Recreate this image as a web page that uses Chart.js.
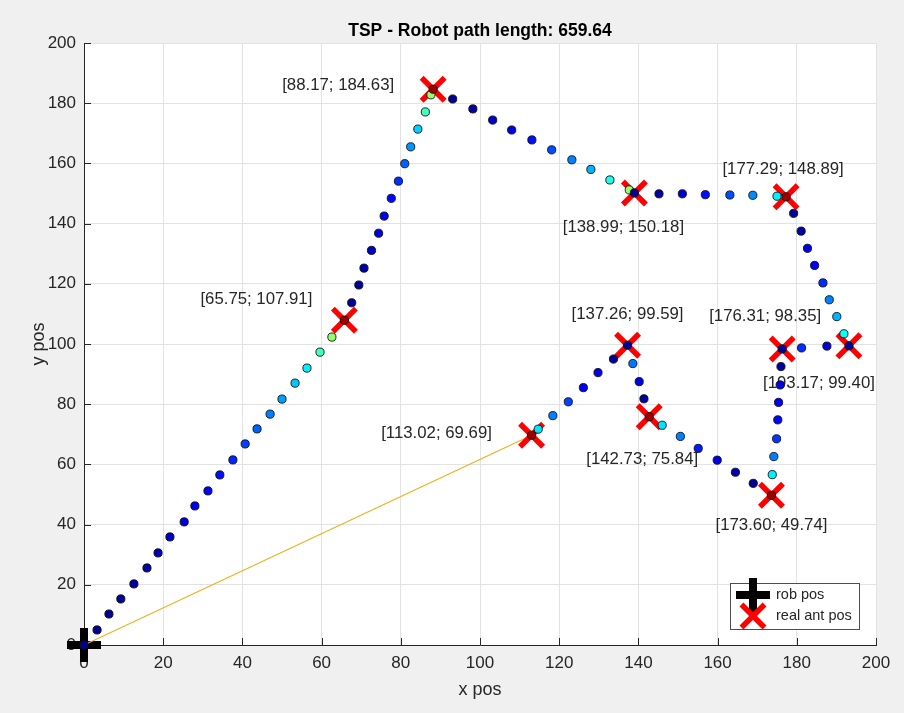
<!DOCTYPE html>
<html>
<head>
<meta charset="utf-8">
<title>TSP - Robot path</title>
<script src="https://cdn.jsdelivr.net/npm/chart.js@4.4.1/dist/chart.umd.min.js"></script>
<style>
    html, body { margin: 0; padding: 0; background: #f0f0f0; }
    #wrap { width: 904px; height: 713px; }
</style>
</head>
<body>
<div id="wrap"><canvas id="tspChart" width="904" height="713"></canvas></div>
<script>
// ── DATA ──
const pathLength = 659.64;

// real ant positions, in visiting order
const antX = [65.75, 88.17, 138.99, 177.29, 193.17, 176.31, 173.60, 142.73, 137.26, 113.02];
const antY = [107.91, 184.63, 150.18, 148.89, 99.40, 98.35, 49.74, 75.84, 99.59, 69.69];

// robot start
const robotX = [0];
const robotY = [0];

// straight leg back home from the last ant
const returnX = [0, 113.02];
const returnY = [0, 69.69];

// sampled robot trail and its colour level (0..1 on the jet map)
const trailX = [
    0, 3.3, 6.3, 9.3, 12.6, 15.9, 18.7, 21.7, 25.3, 28.0, 31.3, 34.3, 37.6, 40.7, 43.7, 47.0, 50.0, 53.3, 56.3, 59.6, 62.6, 65.75,
    67.6, 69.4, 70.7, 72.6, 74.4, 75.8, 77.6, 79.4, 81.0, 82.5, 84.3, 86.2, 87.6, 88.17,
    93.1, 98.2, 103.2, 108.0, 113.1, 118.1, 123.2, 128.0, 132.8, 137.7, 138.99,
    145.2, 151.1, 156.9, 163.1, 168.9, 175.0, 177.29,
    179.2, 181.1, 182.7, 184.5, 186.6, 188.2, 190.1, 191.9, 193.17,
    187.6, 181.2, 176.31,
    176.0, 175.8, 175.4, 175.2, 174.9, 174.2, 173.8, 173.60,
    169.0, 164.5, 159.9, 155.1, 150.6, 146.0, 142.73,
    141.4, 140.2, 138.6, 137.26,
    133.7, 129.8, 126.1, 122.3, 118.4, 114.7, 113.02
];
const trailY = [
    0, 5.0, 10.3, 15.3, 20.3, 25.6, 30.6, 35.9, 40.9, 46.2, 51.2, 56.5, 61.5, 66.8, 71.8, 76.7, 81.7, 87.0, 92.0, 97.3, 102.3, 107.91,
    113.7, 119.6, 125.2, 131.1, 136.8, 142.5, 148.4, 154.1, 159.9, 165.5, 171.4, 177.1, 182.8, 184.63,
    181.4, 178.1, 174.4, 171.1, 167.8, 164.5, 161.2, 158.0, 154.5, 151.2, 150.18,
    149.9, 149.9, 149.6, 149.5, 149.4, 149.1, 148.89,
    143.4, 137.5, 131.8, 126.1, 120.3, 114.7, 109.1, 103.4, 99.40,
    99.3, 98.7, 98.35,
    92.5, 86.4, 80.6, 74.8, 68.5, 62.6, 56.6, 49.74,
    53.7, 57.4, 61.4, 65.3, 69.3, 73.0, 75.84,
    81.8, 87.5, 93.5, 99.59,
    95.0, 90.5, 85.5, 80.8, 76.2, 71.7, 69.69
];
const trailLevel = [
    0.02, 0.02, 0.02, 0.02, 0.03, 0.03, 0.05, 0.07, 0.09, 0.11, 0.12, 0.14, 0.16, 0.19, 0.22, 0.25, 0.28, 0.32, 0.36, 0.44, 0.52, 0.97,
    0.02, 0.02, 0.04, 0.07, 0.09, 0.11, 0.13, 0.17, 0.22, 0.27, 0.33, 0.44, 0.52, 0.97,
    0.02, 0.03, 0.07, 0.10, 0.14, 0.20, 0.25, 0.30, 0.40, 0.52, 0.02,
    0.03, 0.08, 0.14, 0.20, 0.26, 0.36, 0.97,
    0.02, 0.04, 0.10, 0.12, 0.17, 0.25, 0.30, 0.38, 0.02,
    0.08, 0.17, 0.02,
    0.03, 0.10, 0.12, 0.13, 0.18, 0.25, 0.36, 0.97,
    0.02, 0.05, 0.10, 0.15, 0.25, 0.35, 0.97,
    0.03, 0.10, 0.24, 0.02,
    0.02, 0.10, 0.12, 0.19, 0.25, 0.35, 0.97
];

// axis range
const axisMin = 0;
const axisMax = 200;
const tickStep = 20;

// where each coordinate label sits, as pixel offset of its centre from the marker
const labelOffsets = [
    [-88, -21], [-95, -4], [-11, 34], [-3, -27], [-30, 38],
    [-17, -33], [0, 30], [-7, 43], [0, -31], [-95, -2]
];

// ── HELPERS ──
const FONT = '"Liberation Sans", Arial, Helvetica, sans-serif';
const TEXT = '#262626';

function jet(t) {
    const clamp = v => Math.min(Math.max(v, 0), 1);
    const r = clamp(Math.min(4 * t - 1.5, -4 * t + 4.5));
    const g = clamp(Math.min(4 * t - 0.5, -4 * t + 3.5));
    const b = clamp(Math.min(4 * t + 0.5, -4 * t + 2.5));
    return `rgb(${Math.round(r * 255)},${Math.round(g * 255)},${Math.round(b * 255)})`;
}

const toPoints = (xs, ys) => xs.map((x, i) => ({ x: x, y: ys[i] }));

// ── FIGURE DECORATION ──
const figureDecor = {
    id: 'figureDecor',
    beforeDraw(chart) {
        const { ctx, chartArea: a } = chart;
        ctx.save();
        ctx.fillStyle = '#ffffff';
        ctx.fillRect(a.left, a.top, a.right - a.left, a.bottom - a.top);
        ctx.restore();
    },
    beforeDatasetsDraw(chart) {
        const { ctx, chartArea: a, scales } = chart;
        ctx.save();

        // inward tick marks
        ctx.strokeStyle = TEXT;
        ctx.lineWidth = 1;
        ctx.beginPath();
        for (let v = axisMin; v <= axisMax; v += tickStep) {
            const px = Math.round(scales.x.getPixelForValue(v)) + 0.5;
            ctx.moveTo(px, a.bottom);
            ctx.lineTo(px, a.bottom - 7);
            const py = Math.round(scales.y.getPixelForValue(v)) + 0.5;
            ctx.moveTo(a.left, py);
            ctx.lineTo(a.left + 7, py);
        }
        ctx.stroke();

        // coordinate labels next to each ant
        ctx.fillStyle = TEXT;
        ctx.font = `16.8px ${FONT}`;
        ctx.textAlign = 'center';
        ctx.textBaseline = 'middle';
        antX.forEach((x, i) => {
            const px = scales.x.getPixelForValue(x);
            const py = scales.y.getPixelForValue(antY[i]);
            const text = `[${x.toFixed(2)}; ${antY[i].toFixed(2)}]`;
            ctx.fillText(text, px + labelOffsets[i][0], py + labelOffsets[i][1]);
        });
        ctx.restore();
    },
    afterDraw(chart) {
        const { ctx, chartArea: a } = chart;
        const w = 129, h = 46;
        const left = a.right - 17 - w;
        const top = a.bottom - 16 - h;
        ctx.save();
        ctx.fillStyle = '#ffffff';
        ctx.fillRect(left, top, w, h);
        ctx.strokeStyle = '#4d4d4d';
        ctx.lineWidth = 1;
        ctx.strokeRect(left + 0.5, top + 0.5, w, h);

        // rob pos: thick black plus
        const cx = left + 23;
        const cy = top + 12;
        ctx.strokeStyle = '#000000';
        ctx.lineWidth = 8;
        ctx.beginPath();
        ctx.moveTo(cx - 17, cy); ctx.lineTo(cx + 17, cy);
        ctx.moveTo(cx, cy - 17); ctx.lineTo(cx, cy + 17);
        ctx.stroke();

        // real ant pos: red cross
        const r = 16.3 * Math.SQRT1_2;
        const cy2 = top + 33;
        ctx.strokeStyle = '#ff0000';
        ctx.lineWidth = 5.5;
        ctx.beginPath();
        ctx.moveTo(cx - r, cy2 - r); ctx.lineTo(cx + r, cy2 + r);
        ctx.moveTo(cx - r, cy2 + r); ctx.lineTo(cx + r, cy2 - r);
        ctx.stroke();

        ctx.fillStyle = TEXT;
        ctx.font = `14.5px ${FONT}`;
        ctx.textAlign = 'left';
        ctx.textBaseline = 'middle';
        ctx.fillText('rob pos', left + 46, cy);
        ctx.fillText('real ant pos', left + 46, cy2);
        ctx.restore();
    }
};

// ── CHART ──
const ctx = document.getElementById('tspChart').getContext('2d');
const tspChart = new Chart(ctx, {
    type: 'scatter',
    data: {
        datasets: [
            {
                label: 'rob pos',
                data: toPoints(robotX, robotY),
                pointStyle: 'cross',
                pointRadius: 17,
                pointBorderWidth: 8,
                pointBorderColor: '#000000',
                borderColor: '#000000',
                clip: false,
                order: 4
            },
            {
                label: 'return',
                data: toPoints(returnX, returnY),
                showLine: true,
                borderColor: '#EDB120',
                borderWidth: 1.2,
                pointRadius: 0,
                clip: false,
                order: 3
            },
            {
                label: 'real ant pos',
                data: toPoints(antX, antY),
                pointStyle: 'crossRot',
                pointRadius: 16.3,
                pointBorderWidth: 5.5,
                pointBorderColor: '#ff0000',
                borderColor: '#ff0000',
                clip: false,
                order: 2
            },
            {
                label: 'trail',
                data: toPoints(trailX, trailY),
                pointRadius: 4.1,
                pointBorderWidth: 0.9,
                pointBorderColor: '#111111',
                pointBackgroundColor: trailLevel.map(jet),
                clip: false,
                order: 1
            }
        ]
    },
    options: {
        responsive: false,
        animation: false,
        events: [],
        layout: { padding: { left: 0, right: 28, top: 0, bottom: 0 } },
        scales: {
            x: {
                type: 'linear',
                min: axisMin,
                max: axisMax,
                ticks: { stepSize: tickStep, color: TEXT, padding: 8, font: { family: FONT, size: 17 } },
                grid: { color: '#e2e2e2', drawTicks: false },
                border: { color: TEXT, width: 1 },
                title: {
                    display: true, text: 'x pos', color: TEXT,
                    font: { family: FONT, size: 18 },
                    padding: { top: 0, bottom: 12 }
                },
                afterFit: s => { s.height = 68; }
            },
            y: {
                type: 'linear',
                min: axisMin,
                max: axisMax,
                ticks: { stepSize: tickStep, color: TEXT, padding: 8, font: { family: FONT, size: 17 } },
                grid: { color: '#e2e2e2', drawTicks: false },
                border: { color: TEXT, width: 1 },
                title: {
                    display: true, text: 'y pos', color: TEXT,
                    font: { family: FONT, size: 18 },
                    padding: { top: 28, bottom: 0 }
                },
                afterFit: s => { s.width = 84; }
            }
        },
        plugins: {
            title: {
                display: true,
                text: 'TSP - Robot path length: ' + pathLength.toFixed(2),
                color: '#000000',
                fullSize: false,
                font: { family: FONT, size: 17.5, weight: 'bold' },
                padding: { top: 21, bottom: 1 }
            },
            legend: { display: false },
            tooltip: { enabled: false }
        }
    },
    plugins: [figureDecor]
});
</script>
</body>
</html>
